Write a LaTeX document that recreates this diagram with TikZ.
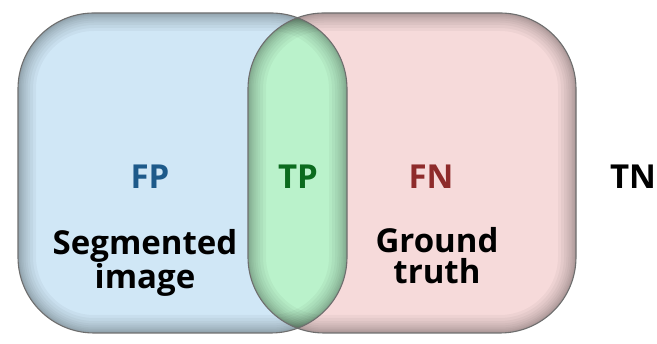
\documentclass[tikz,border=0pt]{standalone}
\usepackage{fontspec}
\setmainfont{Open Sans}
\definecolor{segblue}{HTML}{D0E7F6}
\definecolor{gtpink}{HTML}{F6DADA}
\definecolor{tpgreen}{HTML}{BAF2CB}
\definecolor{fpcol}{HTML}{1D5A8A}
\definecolor{tpcol}{HTML}{0B6B1E}
\definecolor{fncol}{HTML}{8E2B2B}
\definecolor{edgegray}{HTML}{6E6E6E}
\tikzset{
  lbl/.style={font=\bfseries\fontsize{33}{34}\selectfont, inner sep=0pt, align=center},
  captext/.style={font=\bfseries\fontsize{33}{31}\selectfont, inner sep=0pt, align=center, text=black},
  shade band/.style={black, opacity=0.035, rounded corners=76pt},
}
\begin{document}
\begin{tikzpicture}[x=1pt,y=1pt]
\useasboundingbox (0,0) rectangle (657,344);
\def\leftshape{(18,11) rectangle (347,331)}
\def\rightshape{(248,11) rectangle (576,331)}
% fills
\fill[segblue, rounded corners=76pt] \leftshape;
\fill[gtpink, rounded corners=76pt] \rightshape;
\begin{scope}
  \clip[rounded corners=76pt] \leftshape;
  \fill[tpgreen, rounded corners=76pt] \rightshape;
\end{scope}
% inner shading
\foreach \w in {36,30,24,19,15,11,8,5,3}{
\begin{scope}
  \clip[rounded corners=76pt] \leftshape;
  \draw[shade band, line width=\w pt] \leftshape;
\end{scope}
\begin{scope}
  \clip[rounded corners=76pt] \rightshape;
  \draw[shade band, line width=\w pt] \rightshape;
\end{scope}
}
% outlines
\draw[edgegray, line width=1.1pt, rounded corners=76pt] \leftshape;
\draw[edgegray, line width=1.1pt, rounded corners=76pt] \rightshape;
% labels
\node[lbl, text=fpcol] (fp) at (150,167) {FP};
\node[lbl, text=tpcol] (tp) at (298,167) {TP};
\node[lbl, text=fncol] (fn) at (431,167) {FN};
\node[lbl, text=black] (tn) at (633,167) {TN};
\node[captext] (seg) at (145,81) {Segmented\\image};
\node[captext] (gt) at (437,88) {Ground\\truth};
\end{tikzpicture}
\end{document}
